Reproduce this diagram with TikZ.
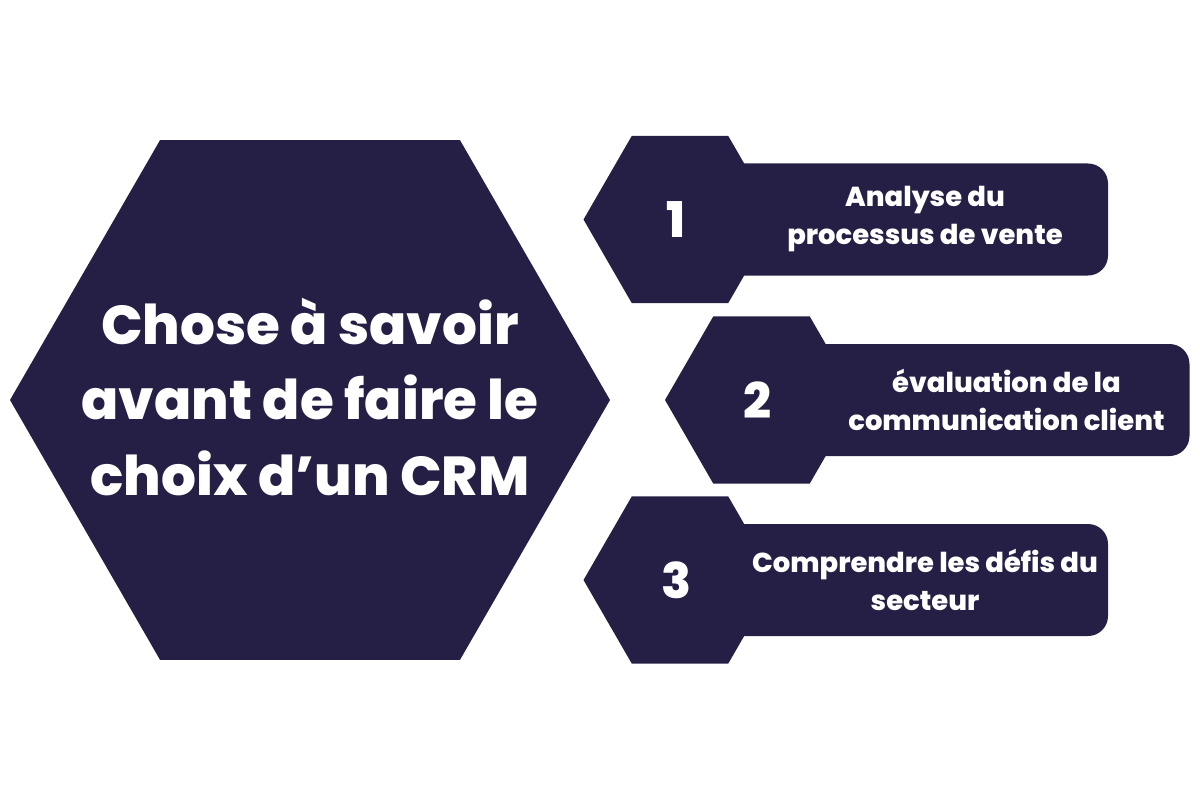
\documentclass[tikz,border=0pt]{standalone}
\usepackage{fontspec}
\setmainfont{Poppins}[BoldFont={Poppins ExtraBold}]
\usepackage{tikz}
\definecolor{navy}{RGB}{37,30,69}
\newcommand*{\bigR}{300}
\newcommand*{\smallR}{96.5}
\newcommand*{\barH}{56}
\newcommand*{\barL}{428}

\tikzset{
	bigtxt/.style={text=white,align=center,font=\bfseries\fontsize{39}{53.5}\selectfont},
	numtxt/.style={text=white,font=\bfseries\fontsize{35}{40}\selectfont},
	badgetxt/.style={text=white,align=center,font=\bfseries\fontsize{19.5}{27}\selectfont}
}

\begin{document}
\begin{tikzpicture}[x=0.025cm,y=-0.025cm]
	\useasboundingbox (0,0) rectangle (1200,800);
	
	% main hexagon
	\fill[navy] (310,400) +(0:\bigR) -- +(60:\bigR) -- +(120:\bigR) -- +(180:\bigR) -- +(240:\bigR) -- +(300:\bigR) -- cycle;
	\node[bigtxt] (title) at (310,397) {Chose à savoir\\avant de faire le\\choix d’un CRM};
	
	% badges
	\foreach \n/\cx/\cy/\txt in {1/680/219.5/{Analyse du\\processus de vente},2/761.5/400/{évaluation de la\\communication client},3/680/580/{Comprendre les défis du\\secteur}} {
		\fill[navy] (\cx,\cy) +(0:\smallR) -- +(60:\smallR) -- +(120:\smallR) -- +(180:\smallR) -- +(240:\smallR) -- +(300:\smallR) -- cycle;
		\fill[navy,rounded corners=.5cm] (\cx,\cy-\barH) rectangle (\cx+\barL,\cy+\barH);
		\node[numtxt] (num\n) at (\cx-4,\cy) {\n};
		\node[badgetxt] (txt\n) at (\cx+245,\cy) {\txt};
	}
\end{tikzpicture}
\end{document}
